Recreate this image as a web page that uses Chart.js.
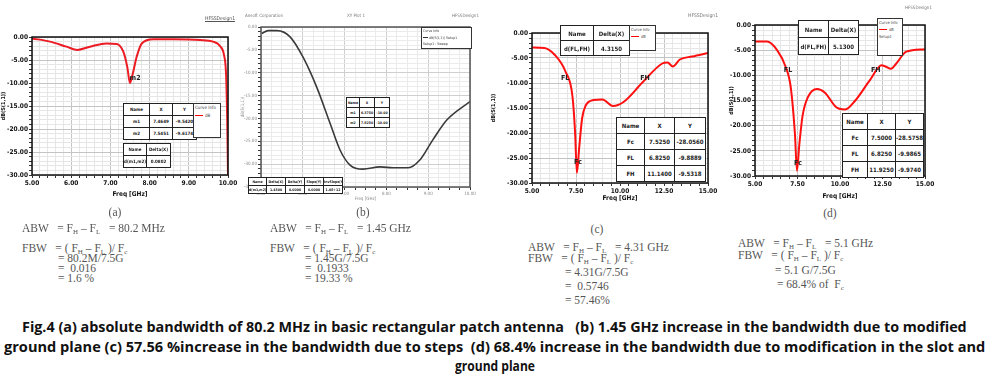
<!DOCTYPE html>
<html>
<head>
<meta charset="utf-8">
<script src="https://cdn.jsdelivr.net/npm/chart.js@4.4.1/dist/chart.umd.min.js"></script>
<style>
body { margin:0; background:#fff; width:989px; height:386px; overflow:hidden; position:relative; }
canvas { position:absolute; }
.tb { position:absolute; border-collapse:collapse; table-layout:fixed; background:#fff; font-family:'DejaVu Sans Condensed',sans-serif; font-weight:bold; color:#222; }
.tb td { border:1.5px solid #222; text-align:center; padding:0; overflow:hidden; white-space:nowrap; }
.box { position:absolute; background:#fff; border:1.5px solid #333; font-family:'DejaVu Sans Condensed',sans-serif; color:#444; white-space:nowrap; }
.lbl { position:absolute; font-family:'DejaVu Sans Condensed',sans-serif; color:#777; white-space:nowrap; }
.eq { position:absolute; font:11.5px 'Liberation Serif',serif; color:#555; white-space:pre; line-height:12px; }
.eq sub { font-size:7px; line-height:0; vertical-align:-2px; }
.cap { position:absolute; font:bold 14px 'Open Sans',sans-serif; color:#111; white-space:pre; line-height:20px; transform-origin:0 50%; }
</style>
</head>
<body>
<canvas id="cA" width="240" height="198" style="left:0px;top:0px"></canvas>
<canvas id="cB" width="245" height="202" style="left:240px;top:0px"></canvas>
<canvas id="cC" width="230" height="202" style="left:490px;top:0px"></canvas>
<canvas id="cD" width="210" height="200" style="left:728px;top:0px"></canvas>
<script>
// (a) basic rectangular patch
const freqA = [5.0, 5.46, 5.88, 6.16, 6.48, 6.9, 7.16, 7.33, 7.43, 7.5, 7.57, 7.67, 7.8, 8.1, 8.6, 9.29, 9.62, 9.8, 9.9, 9.95, 9.98, 10.0];
const s11A = [-0.3, -1.0, -2.1, -2.8, -2.1, -1.4, -1.5, -3.2, -6.5, -10.0, -8.0, -4.3, -1.4, -0.5, -0.5, -0.65, -1.0, -2.0, -4.0, -8.0, -18.0, -30.0];
// (b) modified ground plane
const freqB = [5.02, 5.17, 5.38, 5.69, 6.0, 6.33, 6.65, 6.89, 7.13, 7.44, 7.85, 8.16, 8.52, 8.8, 9.11, 9.45, 10.0];
const valB = [-1.4, -0.8, -0.8, -2.1, -6.5, -13.1, -21.0, -26.9, -30.2, -31.1, -30.6, -30.8, -30.8, -29.1, -24.7, -20.3, -16.3];
// (c) steps
const freqC = [5.0, 5.7, 6.3, 6.9, 7.3, 7.45, 7.55, 7.68, 7.85, 8.05, 8.5, 9.0, 9.6, 10.2, 11.3, 12.4, 12.7, 13.0, 13.4, 14.1, 15.0];
const s11C = [-2.9, -3.0, -4.4, -7.7, -12.7, -20.0, -28.0, -23.0, -17.0, -14.5, -13.4, -13.3, -14.6, -13.8, -9.8, -6.1, -5.9, -6.7, -5.3, -4.7, -4.0];
// (d) slot + ground plane
const freqD = [5.0, 5.7, 6.3, 6.8, 7.1, 7.35, 7.47, 7.6, 7.8, 8.1, 8.65, 9.1, 9.8, 10.3, 10.9, 11.75, 12.45, 12.65, 13.0, 13.3, 13.9, 15.0];
const s11D = [-3.3, -3.3, -5.0, -8.3, -12.3, -21.7, -29.0, -24.0, -18.0, -14.4, -12.7, -13.4, -16.4, -16.8, -15.0, -11.0, -8.0, -8.2, -8.7, -7.7, -5.3, -4.8];

// marker labels (freq, dB, text)
const markersA = [{x: 7.63, y: -8.9, t: 'm2'}];
const markersC = [{x: 6.88, y: -9.0, t: 'FL'}, {x: 11.42, y: -9.0, t: 'FH'}, {x: 7.61, y: -25.8, t: 'Fc'}];
const markersD = [{x: 6.94, y: -9.0, t: 'FL'}, {x: 12.1, y: -9.0, t: 'FH'}, {x: 7.53, y: -27.4, t: 'Fc'}];

function isMaj(v, step) {
    const r = v / step;
    return Math.abs(r - Math.round(r)) < 1e-6;
}

const framePlugin = {
    id: 'frame',
    afterDraw(chart, args, o) {
        const { ctx, chartArea: c } = chart;
        ctx.save();
        ctx.strokeStyle = o.color || '#111';
        ctx.lineWidth = o.width || 1.5;
        ctx.strokeRect(c.left, c.top, c.right - c.left, c.bottom - c.top);
        ctx.restore();
    }
};

const markerPlugin = {
    id: 'markers',
    afterDatasetsDraw(chart, args, o) {
        const { ctx, scales: { x, y } } = chart;
        (o.items || []).forEach(m => {
            ctx.save();
            ctx.fillStyle = '#222';
            ctx.font = 'bold 7px "DejaVu Sans Condensed", sans-serif';
            ctx.textAlign = 'center';
            ctx.textBaseline = 'middle';
            ctx.fillText(m.t, x.getPixelForValue(m.x), y.getPixelForValue(m.y));
            ctx.restore();
        });
    }
};

function makeChart(id, cfg) {
    const tickFont = cfg.tickFont || { family: 'DejaVu Sans Condensed', size: 6.5, weight: 'bold' };
    const tickColor = cfg.tickColor || '#111';
    const majC = cfg.majC || '#c4c4c4';
    const minC = cfg.minC || '#e6e6e6';
    return new Chart(document.getElementById(id), {
        type: 'line',
        data: {
            datasets: [{
                data: cfg.xs.map((f, i) => ({ x: f, y: cfg.ys[i] })),
                borderColor: cfg.color,
                borderWidth: cfg.lineWidth || 2,
                pointRadius: 0,
                cubicInterpolationMode: 'monotone',
                fill: false
            }]
        },
        options: {
            responsive: false,
            animation: false,
            layout: { padding: { top: cfg.padTop, right: cfg.padRight, left: 0, bottom: 0 } },
            plugins: {
                legend: { display: false },
                tooltip: { enabled: false },
                frame: { color: cfg.frameColor || '#111', width: 1.5 },
                markers: { items: cfg.markers || [] }
            },
            scales: {
                x: {
                    type: 'linear',
                    min: cfg.xMin, max: cfg.xMax,
                    ticks: {
                        stepSize: cfg.xStep, autoSkip: false, maxRotation: 0, padding: 1,
                        font: tickFont, color: tickColor,
                        callback: v => isMaj(v, cfg.xMajor) ? v.toFixed(2) : ''
                    },
                    grid: {
                        color: c => isMaj(c.tick.value, cfg.xMajor) ? majC : minC,
                        tickLength: 3, tickColor: '#333'
                    },
                    border: { display: false },
                    title: { display: true, text: 'Freq [GHz]', font: cfg.titleFont || { family: 'DejaVu Sans Condensed', size: 6.5, weight: 'bold' }, color: tickColor, padding: 0 },
                    afterFit: s => { s.height = cfg.xHeight; }
                },
                y: {
                    type: 'linear',
                    min: cfg.yMin, max: cfg.yMax,
                    ticks: {
                        stepSize: cfg.yStep, autoSkip: false, padding: 1,
                        font: tickFont, color: tickColor,
                        callback: v => isMaj(v, cfg.yMajor) ? v.toFixed(2) : ''
                    },
                    grid: {
                        color: c => isMaj(c.tick.value, cfg.yMajor) ? majC : minC,
                        tickLength: 3, tickColor: '#333'
                    },
                    border: { display: false },
                    title: { display: true, text: cfg.yTitle || 'dB(S(1,1))', font: cfg.titleFont || { family: 'DejaVu Sans Condensed', size: 5.5, weight: 'bold' }, color: tickColor, padding: 0 },
                    afterFit: s => { s.width = cfg.yWidth; }
                }
            }
        },
        plugins: [framePlugin, markerPlugin]
    });
}

makeChart('cA', {
    xs: freqA, ys: s11A, color: '#ec1c24',
    xMin: 5, xMax: 10, xStep: 0.2, xMajor: 1,
    yMin: -30, yMax: 0, yStep: 1, yMajor: 5,
    yWidth: 32, xHeight: 23, padTop: 37, padRight: 12,
    markers: markersA
});

makeChart('cB', {
    xs: freqB, ys: valB, color: '#3a3a3a', lineWidth: 1.6,
    xMin: 5, xMax: 10, xStep: 0.25, xMajor: 1,
    yMin: -35, yMax: 0, yStep: 1, yMajor: 5,
    yWidth: 21, xHeight: 15, padTop: 27, padRight: 15,
    tickFont: { family: 'DejaVu Sans Condensed', size: 4.5 }, tickColor: '#8a8a8a',
    titleFont: { family: 'DejaVu Sans Condensed', size: 4.5 },
    majC: '#cfcfcf', minC: '#ebebeb', frameColor: '#555'
});

makeChart('cC', {
    xs: freqC, ys: s11C, color: '#ff1010',
    xMin: 5, xMax: 15, xStep: 0.5, xMajor: 2.5,
    yMin: -30, yMax: 0, yStep: 1, yMajor: 5,
    yWidth: 42, xHeight: 19, padTop: 33, padRight: 12,
    markers: markersC
});

makeChart('cD', {
    xs: freqD, ys: s11D, color: '#ff1010',
    xMin: 5, xMax: 15, xStep: 0.5, xMajor: 2.5,
    yMin: -30, yMax: 0, yStep: 1, yMajor: 5,
    yWidth: 27, xHeight: 24, padTop: 25, padRight: 13,
    markers: markersD
});

// annotation tables / boxes
function addTable(x, y, cols, rowH, rows, fs) {
    const t = document.createElement('table');
    t.className = 'tb';
    t.style.left = x + 'px';
    t.style.top = y + 'px';
    t.style.fontSize = fs + 'px';
    t.style.width = cols.reduce((a, b) => a + b, 0) + 'px';
    rows.forEach(r => {
        const tr = t.insertRow();
        r.forEach((c, i) => {
            const td = tr.insertCell();
            td.textContent = c;
            td.style.width = cols[i] + 'px';
            td.style.height = rowH + 'px';
        });
    });
    document.body.appendChild(t);
}
function addBox(x, y, w, h, html, fs) {
    const d = document.createElement('div');
    d.className = 'box';
    d.style.cssText = `left:${x}px;top:${y}px;width:${w}px;height:${h}px;font-size:${fs}px;line-height:${fs + 3}px;padding-left:1px`;
    d.innerHTML = html;
    document.body.appendChild(d);
}
function addLabel(x, y, text, fs, extra) {
    const d = document.createElement('div');
    d.className = 'lbl';
    d.style.cssText = `left:${x}px;top:${y}px;font-size:${fs}px;` + (extra || '');
    d.textContent = text;
    document.body.appendChild(d);
}
const redLine = '<span style="display:inline-block;width:8px;border-top:1.5px solid #f00;vertical-align:middle;margin-right:2px"></span>';
const grayLine = '<span style="display:inline-block;width:5px;border-top:1px solid #333;vertical-align:middle;margin-right:1px"></span>';

// (a)
addTable(123, 103, [25, 22, 23], 11, [['Name', 'X', 'Y'], ['m1', '7.4649', '-9.5420'], ['m2', '7.5451', '-9.6174']], 4.5);
addBox(193, 103, 25, 33, 'Curve Info<br>' + redLine + 'dB', 4.5);
addTable(123, 143, [22, 23], 11, [['Name', 'Delta(X)'], ['d(m1,m2)', '0.0802']], 4.5);
addLabel(205, 15, 'HFSSDesign1', 5, 'color:#555;text-decoration:underline');
// (b)
addLabel(245, 13, 'Ansoft Corporation', 4.5);
addLabel(347, 13, 'XY Plot 1', 4.5);
addLabel(452, 13, 'HFSSDesign1', 4.5);
addBox(421, 27, 48, 20, 'Curve Info<br>' + grayLine + 'dB(S(1,1)) Setup1<br>Setup1 : Sweep', 3.5);
addTable(346, 97, [12, 14, 14], 9, [['Name', 'X', 'Y'], ['m1', '6.3750', '-10.00'], ['m2', '7.8250', '-10.00']], 3.5);
addTable(248, 177, [17, 18, 18, 18, 18], 7, [['Name', 'Delta(X)', 'Delta(Y)', 'Slope(Y)', 'InvSlope(Y)'], ['d(m1,m2)', '1.4500', '0.0000', '0.0000', '1.0E+12']], 3.5);
// (c)
addTable(560, 25, [32, 35], 14, [['Name', 'Delta(X)'], ['d(FL,FH)', '4.3150']], 6);
addBox(629, 25, 24, 24, 'Curve Info<br>' + redLine + 'dB', 4);
addTable(616, 117, [27, 29, 30], 15, [['Name', 'X', 'Y'], ['Fc', '7.5250', '-28.0560'], ['FL', '6.8250', '-9.8889'], ['FH', '11.1400', '-9.5318']], 6);
addLabel(688, 12, 'HFSSDesign1', 5);
// (d)
addTable(798, 20, [29, 29], 16, [['Name', 'Delta(X)'], ['d(FL,FH)', '5.1300']], 6);
addBox(877, 18, 23, 36, 'Curve Info<br>' + redLine + 'dB<br>Setup1', 4);
addTable(842, 113, [24, 27, 27], 15, [['Name', 'X', 'Y'], ['Fc', '7.5000', '-28.5758'], ['FL', '6.8250', '-9.9865'], ['FH', '11.9250', '-9.9740']], 6);
addLabel(905, 5, 'HFSSDesign1', 4.5);

// equations under each plot
function eq(x, y, html, center) {
    const d = document.createElement('div');
    d.className = 'eq';
    d.style.left = x + 'px';
    d.style.top = (y - 6) + 'px';
    if (center) d.style.transform = 'translateX(-50%)';
    d.innerHTML = html;
    document.body.appendChild(d);
}
const FH = 'F<sub>H</sub>';
const FL = 'F<sub>L</sub>';
const Fc = 'F<sub>c</sub>';
const diff = '= ' + FH + ' – ' + FL;
const ratio = '= ( ' + FH + ' – ' + FL + ' )/ ' + Fc;
// (a)
eq(115, 212, '(a)', true);
eq(22, 228, 'ABW   ' + diff + '   = 80.2 MHz');
eq(22, 248, 'FBW   ' + ratio);
eq(58, 258, '= 80.2M/7.5G'); eq(58, 268, '=  0.016'); eq(58, 278, '= 1.6 %');
// (b)
eq(363, 212, '(b)', true);
eq(270, 228, 'ABW   ' + diff + '   = 1.45 GHz');
eq(270, 248, 'FBW   ' + ratio);
eq(305, 258, '= 1.45G/7.5G'); eq(305, 268, '=  0.1933'); eq(305, 278, '= 19.33 %');
// (c)
eq(597, 229, '(c)', true);
eq(528, 247, 'ABW   ' + diff + '   = 4.31 GHz');
eq(528, 258, 'FBW   ' + ratio);
eq(565, 272, '= 4.31G/7.5G'); eq(565, 286, '=  0.5746'); eq(565, 300, '= 57.46%');
// (d)
eq(830, 213, '(d)', true);
eq(738, 243, 'ABW   ' + diff + '   = 5.1 GHz');
eq(738, 255, 'FBW   ' + ratio);
eq(775, 270, '= 5.1 G/7.5G'); eq(777, 284, '= 68.4% of  ' + Fc);

// caption, each line squeezed to the width it has in the figure
const capLines = [
    ['Fig.4 (a) absolute bandwidth of 80.2 MHz in basic rectangular patch antenna   (b) 1.45 GHz increase in the bandwidth due to modified', 22, 945, 327],
    ['ground plane (c) 57.56 %increase in the bandwidth due to steps  (d) 68.4% increase in the bandwidth due to modification in the slot and', 4, 981, 347],
    ['ground plane', 455, 80, 366]
];
capLines.forEach(([txt, x, w, y]) => {
    const d = document.createElement('div');
    d.className = 'cap';
    d.textContent = txt;
    d.style.left = x + 'px';
    d.style.top = (y - 10) + 'px';
    document.body.appendChild(d);
    d.style.transform = `scaleX(${w / d.offsetWidth})`;
});
</script>
</body>
</html>
